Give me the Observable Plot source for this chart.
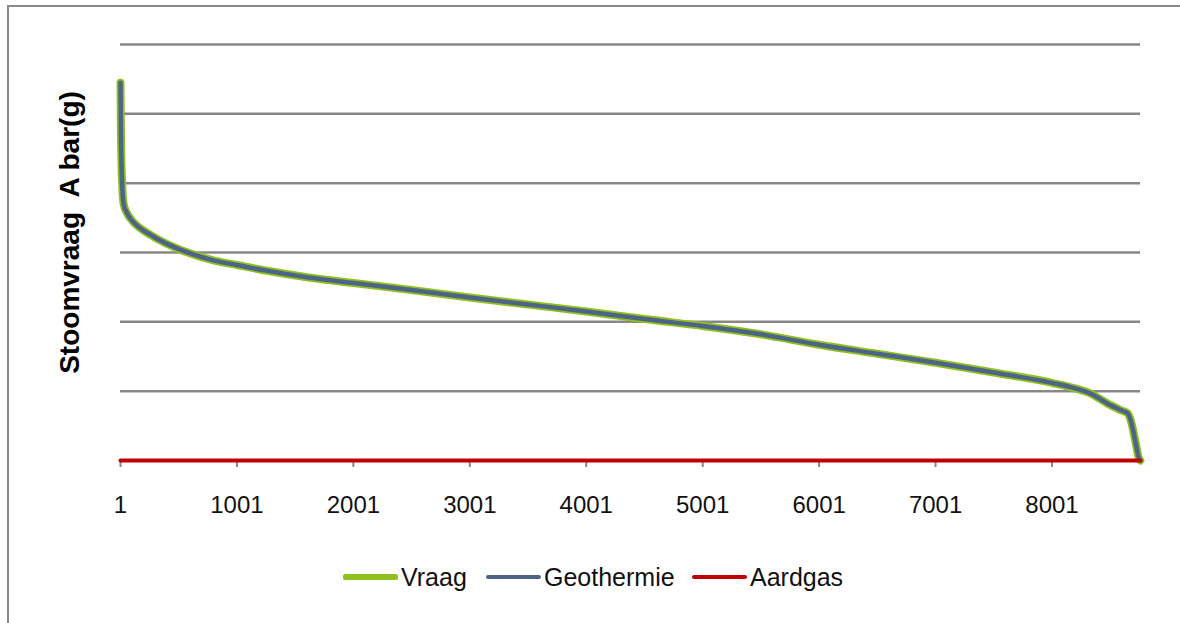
<!DOCTYPE html>
<html>
<head>
<meta charset="utf-8">
<script src="https://cdn.jsdelivr.net/npm/d3@7"></script>
<script src="https://cdn.jsdelivr.net/npm/@observablehq/plot@0.6"></script>
<style>
  body { margin: 0; background: #fff; }
  #wrap { position: relative; width: 1180px; height: 623px; overflow: hidden; background: #fff;
          font-family: "Liberation Sans", Arial, sans-serif; }
  #frame { position: absolute; left: 7px; top: 5px; width: 1300px; height: 800px;
           border-left: 2px solid #8a8a8a; border-top: 2px solid #8a8a8a; box-sizing: border-box; }
  #chart { position: absolute; left: 0; top: 0; }
  .item { position: absolute; top: 562px; height: 30px; display: flex; align-items: center;
          font-size: 25px; color: #111; white-space: nowrap; }
  .sw { display: inline-block; width: 55px; margin-right: 3px; border-radius: 2px; }
</style>
</head>
<body>
<div id="wrap">
  <div id="frame"></div>
  <div id="chart"></div>
  <div id="legend"></div>
</div>
<script>
// Hour of the year (sorted duration curve) and steam demand values
const hours      = [1, 5, 15, 28, 60, 100, 170, 243, 380, 530, 816, 1001, 1246, 1617, 2001, 2500, 3001, 3500, 4001, 4500, 5001, 5500, 6001, 6500, 7001, 7500, 8001, 8200, 8333, 8479, 8600, 8651, 8677, 8720, 8746, 8760];
const vraag      = [5.45, 4.7, 4.0, 3.70, 3.56, 3.46, 3.35, 3.27, 3.14, 3.03, 2.88, 2.82, 2.74, 2.64, 2.56, 2.46, 2.35, 2.25, 2.15, 2.04, 1.94, 1.82, 1.67, 1.54, 1.41, 1.27, 1.12, 1.04, 0.965, 0.82, 0.72, 0.68, 0.58, 0.25, 0.04, 0.0];
const geothermie = [5.45, 4.7, 4.0, 3.70, 3.56, 3.46, 3.35, 3.27, 3.14, 3.03, 2.88, 2.82, 2.74, 2.64, 2.56, 2.46, 2.35, 2.25, 2.15, 2.04, 1.94, 1.82, 1.67, 1.54, 1.41, 1.27, 1.12, 1.04, 0.965, 0.82, 0.72, 0.68, 0.58, 0.25, 0.04, 0.0];
const aardgas    = [0, 0, 0, 0, 0, 0, 0, 0, 0, 0, 0, 0, 0, 0, 0, 0, 0, 0, 0, 0, 0, 0, 0, 0, 0, 0, 0, 0, 0, 0, 0, 0, 0, 0, 0, 0];
const xTicks     = [1, 1001, 2001, 3001, 4001, 5001, 6001, 7001, 8001];
const yGrid      = [1, 2, 3, 4, 5, 6];
const seriesNames  = ["Vraag", "Geothermie", "Aardgas"];
const seriesColors = ["#8fc01f", "#4d6488", "#c00000"];
const yTitle = "Stoomvraag  A bar(g)";

const rows = hours.map((h, i) => ({hour: h, vraag: vraag[i], geothermie: geothermie[i], aardgas: aardgas[i]}));

const chart = Plot.plot({
  width: 1180,
  height: 540,
  marginLeft: 120,
  marginRight: 40,
  marginTop: 44,
  marginBottom: 80,
  style: {fontFamily: '"Liberation Sans", Arial, sans-serif', background: "transparent"},
  x: {domain: [1, 8761]},
  y: {domain: [0, 6], axis: null},
  marks: [
    Plot.ruleY(yGrid, {stroke: "#878787", strokeWidth: 2.5}),
    Plot.axisX({ticks: xTicks, tickFormat: d => String(d), tickSize: 7, tickPadding: 28,
                fontSize: 24, stroke: "#878787", strokeWidth: 2, fill: "#111", label: null}),
    Plot.ruleY([0], {stroke: "#878787", strokeWidth: 2}),
    Plot.line(rows, {x: "hour", y: "vraag", stroke: seriesColors[0], strokeWidth: 8, curve: "monotone-x"}),
    Plot.line(rows, {x: "hour", y: "geothermie", stroke: seriesColors[1], strokeWidth: 4.5, curve: "monotone-x"}),
    Plot.line(rows, {x: "hour", y: "aardgas", stroke: seriesColors[2], strokeWidth: 4}),
    Plot.text([yTitle], {frameAnchor: "left", textAnchor: "middle", rotate: -90, dx: -50, dy: -20,
                         fontWeight: "bold", fontSize: 28, fill: "#000"})
  ]
});
document.getElementById("chart").appendChild(chart);

// Legend
const legendLeft = [343, 486, 692];
const swatchWidth = [6, 3.5, 3.5];
const leg = document.getElementById("legend");
seriesNames.forEach((name, i) => {
  const it = document.createElement("div");
  it.className = "item";
  it.style.left = legendLeft[i] + "px";
  const sw = document.createElement("span");
  sw.className = "sw";
  sw.style.height = swatchWidth[i] + "px";
  sw.style.background = seriesColors[i];
  it.appendChild(sw);
  it.appendChild(document.createTextNode(name));
  leg.appendChild(it);
});
</script>
</body>
</html>
